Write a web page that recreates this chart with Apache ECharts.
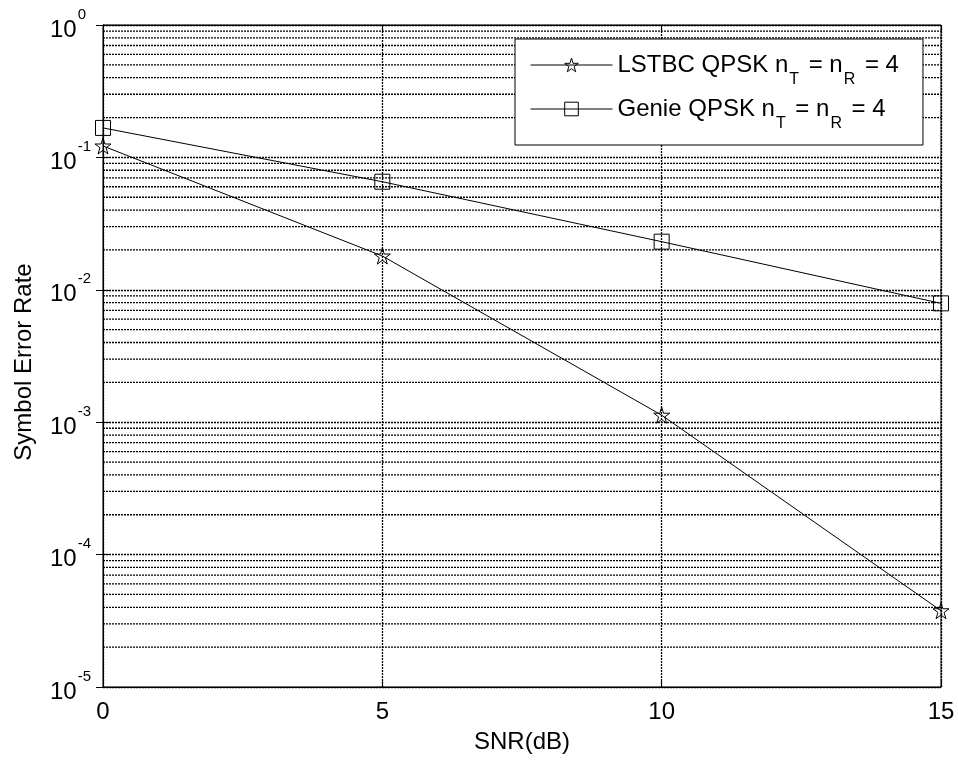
<!DOCTYPE html>
<html>
<head>
<meta charset="utf-8">
<script src="https://cdn.jsdelivr.net/npm/echarts@6/dist/echarts.min.js"></script>
<style>
html,body{margin:0;padding:0;background:#fff;}
#chart{width:958px;height:760px;}
</style>
</head>
<body>
<div id="chart"></div>
<script>
// ---- data ----
const snrDb = [0, 5, 10, 15];
const lstbcSer = [0.122, 0.0180, 0.00113, 3.77e-5];
const genieSer = [0.167, 0.0655, 0.0231, 0.0079];
const seriesNames = ['LSTBC QPSK', 'Genie QPSK'];
const xTicks = [0, 5, 10, 15];
const yDecades = [1e-5, 1e-4, 1e-3, 1e-2, 1e-1, 1];
const minorMult = [2, 3, 4, 5, 6, 7, 8, 9];

const FONT = '"Liberation Sans", Arial, Helvetica, sans-serif';
const STAR = 'path://M50,2 L61,36 L97,36 L68,57 L79,92 L50,71 L21,92 L32,57 L3,36 L39,36 Z';

const minorVals = [];
for (let i = 0; i < yDecades.length - 1; i++) {
  minorMult.forEach(m => minorVals.push(yDecades[i] * m));
}

const gridLine = { color: '#000', width: 1.3, type: [2, 1] };

const chart = echarts.init(document.getElementById('chart'), null, { renderer: 'canvas' });

const minorGridSeries = minorVals.map(v => ({
  type: 'line',
  xAxisIndex: 0, yAxisIndex: 0,
  data: [[xTicks[0], v], [xTicks[xTicks.length - 1], v]],
  symbol: 'none',
  silent: true,
  legendHoverLink: false,
  lineStyle: gridLine,
  emphasis: { disabled: true },
  tooltip: { show: false },
  z: 1
}));

const option = {
  animation: false,
  backgroundColor: '#fff',
  textStyle: { fontFamily: FONT, color: '#000' },
  grid: { left: 103, right: 17, top: 25, bottom: 73, show: true, borderColor: '#000', borderWidth: 1, backgroundColor: 'transparent' },
  legend: {
    orient: 'vertical',
    left: 515,
    top: 39,
    padding: [14, 24, 13, 15],
    itemGap: 9,
    itemWidth: 82,
    itemHeight: 17,
    backgroundColor: '#fff',
    borderColor: '#000',
    borderWidth: 1,
    borderRadius: 0,
    inactiveColor: '#000',
    z: 10,
    data: seriesNames,
    itemStyle: { color: 'rgba(255,255,255,0)', borderColor: '#000', borderWidth: 1 },
    lineStyle: { color: '#000', width: 1 },
    formatter: function (name) {
      return '{a|' + name + ' n}{s|T}{a| = n}{s|R}{a| = 4}';
    },
    textStyle: {
      fontFamily: FONT,
      color: '#000',
      rich: {
        a: { fontFamily: FONT, fontSize: 24, lineHeight: 24, verticalAlign: 'top', color: '#000' },
        s: { fontFamily: FONT, fontSize: 16, lineHeight: 16, verticalAlign: 'top', color: '#000', padding: [19, 3, 0, 1] }
      }
    }
  },
  xAxis: [{
    type: 'value',
    min: 0, max: 15, interval: 5,
    position: 'bottom',
    name: 'SNR(dB)',
    nameLocation: 'middle',
    nameGap: 43,
    nameTextStyle: { fontFamily: FONT, fontSize: 24, color: '#000' },
    axisLine: { show: true, lineStyle: { color: '#000', width: 1 } },
    axisTick: { show: true, inside: true, length: 7, lineStyle: { color: '#000' } },
    axisLabel: { margin: 13, fontFamily: FONT, fontSize: 24, color: '#000',
      formatter: function (v) { return xTicks.indexOf(v) >= 0 ? String(v) : ''; } },
    splitLine: { show: true, lineStyle: gridLine }
  }, {
    type: 'value',
    min: 0, max: 15, interval: 5,
    position: 'top',
    axisLine: { show: true, lineStyle: { color: '#000', width: 1 } },
    axisTick: { show: true, inside: true, length: 7, lineStyle: { color: '#000' } },
    axisLabel: { show: false },
    splitLine: { show: false }
  }],
  yAxis: [{
    type: 'log',
    logBase: 10,
    min: yDecades[0], max: yDecades[yDecades.length - 1],
    splitNumber: 5,
    position: 'left',
    name: 'Symbol Error Rate',
    nameLocation: 'middle',
    nameGap: 67,
    nameRotate: 90,
    nameTextStyle: { fontFamily: FONT, fontSize: 24, color: '#000', padding: [0, 12, 0, 0] },
    axisLine: { show: true, lineStyle: { color: '#000', width: 1 } },
    axisTick: { show: true, inside: true, length: 7, lineStyle: { color: '#000' } },
    axisLabel: {
      margin: 53,
      align: 'left',
      padding: [0, 0, 12, 0],
      formatter: function (v) {
        const e = Math.round(Math.log10(v));
        return '{b|10}{e|' + e + '}';
      },
      rich: {
        b: { fontFamily: FONT, fontSize: 24, lineHeight: 24, verticalAlign: 'top', color: '#000', padding: [11, 0, 0, 0] },
        e: { fontFamily: FONT, fontSize: 15, lineHeight: 15, verticalAlign: 'top', color: '#000', padding: [0, 0, 0, 1] }
      }
    },
    splitLine: { show: true, lineStyle: gridLine }
  }, {
    type: 'log',
    logBase: 10,
    min: yDecades[0], max: yDecades[yDecades.length - 1],
    splitNumber: 5,
    position: 'right',
    axisLine: { show: true, lineStyle: { color: '#000', width: 1 } },
    axisTick: { show: true, inside: true, length: 7, lineStyle: { color: '#000' } },
    axisLabel: { show: false },
    splitLine: { show: false }
  }],
  series: minorGridSeries.concat([{
    name: seriesNames[0],
    type: 'line',
    xAxisIndex: 0, yAxisIndex: 0,
    data: snrDb.map((x, i) => [x, lstbcSer[i]]),
    symbol: STAR,
    symbolSize: 16,
    showAllSymbol: true,
    lineStyle: { color: '#000', width: 1 },
    itemStyle: { color: 'rgba(255,255,255,0)', borderColor: '#000', borderWidth: 1 },
    emphasis: { disabled: true },
    z: 5
  }, {
    name: seriesNames[1],
    type: 'line',
    xAxisIndex: 0, yAxisIndex: 0,
    data: snrDb.map((x, i) => [x, genieSer[i]]),
    symbol: 'rect',
    symbolSize: 15,
    showAllSymbol: true,
    lineStyle: { color: '#000', width: 1 },
    itemStyle: { color: 'rgba(255,255,255,0)', borderColor: '#000', borderWidth: 1 },
    emphasis: { disabled: true },
    z: 5
  }])
};

chart.setOption(option);
</script>
</body>
</html>
